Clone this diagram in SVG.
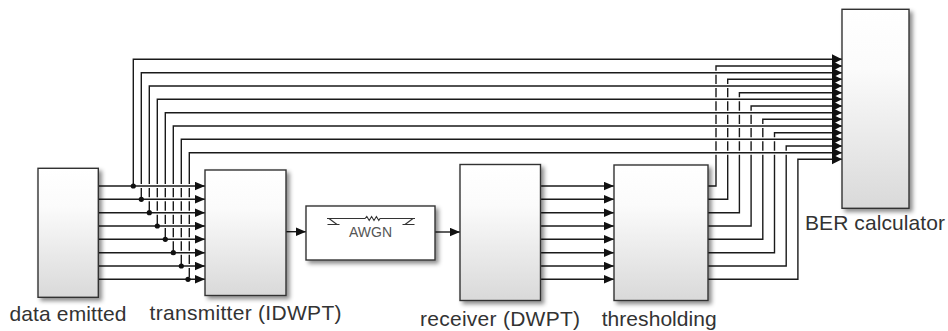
<svg xmlns="http://www.w3.org/2000/svg" width="948" height="331" viewBox="0 0 948 331">
<defs>
<linearGradient id="blk" x1="0" y1="0" x2="0" y2="1">
<stop offset="0" stop-color="#ffffff"/>
<stop offset="0.3" stop-color="#fbfbfb"/>
<stop offset="1" stop-color="#d9d9d9"/>
</linearGradient>
<filter id="sh" x="-20%" y="-20%" width="150%" height="150%">
<feDropShadow dx="3" dy="3" stdDeviation="2" flood-color="#000" flood-opacity="0.45"/>
</filter>
<marker id="ar" markerUnits="userSpaceOnUse" markerWidth="11" markerHeight="10" refX="10" refY="4.5" orient="auto">
<path d="M0,0.3 L10,4.5 L0,8.7 z" fill="#111"/>
</marker>
<marker id="arb" markerUnits="userSpaceOnUse" markerWidth="11" markerHeight="12" refX="10" refY="5.5" orient="auto">
<path d="M0,0.5 L10,5.5 L0,10.5 z" fill="#111"/>
</marker>
<style>
.blk{fill:url(#blk);stroke:#333;stroke-width:1.4;filter:url(#sh)}
.w{fill:#fff;stroke:#333;stroke-width:1.4;filter:url(#sh)}
.ln{fill:none;stroke:#1a1a1a;stroke-width:1.4}
.ar{marker-end:url(#ar)}
.arb{marker-end:url(#arb)}
.halo{fill:none;stroke:#fff;stroke-width:4}
.lbl{font-family:"Liberation Sans",Arial,sans-serif;font-size:21px;fill:#333}
.ico{fill:none;stroke:#333;stroke-width:1.1}
</style>
</defs>
<rect width="948" height="331" fill="#fff"/>

<g id="connectors">
<!-- thresholding outputs to BER -->
<path class="ln arb" d="M708 186 H716 V66 H842"/>
<path class="ln arb" d="M708 199.3 H727.7 V79.3 H842"/>
<path class="ln arb" d="M708 212.7 H739.4 V92.7 H842"/>
<path class="ln arb" d="M708 226 H751.1 V106 H842"/>
<path class="ln arb" d="M708 239.3 H762.8 V119.3 H842"/>
<path class="ln arb" d="M708 252.7 H774.5 V132.7 H842"/>
<path class="ln arb" d="M708 266 H786.2 V146 H842"/>
<path class="ln arb" d="M708 279.3 H797.9 V159.3 H842"/>
<!-- halos on data top lines -->
<path class="halo" d="M137 59.3 H830 M145 72.7 H830 M153 86 H830 M161 99.3 H830 M169 112.7 H830 M177 126 H830 M185 139.3 H830 M193 152.7 H830"/>
<!-- data branches to BER -->
<path class="ln arb" d="M133.3 186 V59.3 H842"/>
<path class="ln arb" d="M141.3 199.3 V72.7 H842"/>
<path class="ln arb" d="M149.3 212.7 V86 H842"/>
<path class="ln arb" d="M157.3 226 V99.3 H842"/>
<path class="ln arb" d="M165.3 239.3 V112.7 H842"/>
<path class="ln arb" d="M173.3 252.7 V126 H842"/>
<path class="ln arb" d="M181.3 266 V139.3 H842"/>
<path class="ln arb" d="M189.3 279.3 V152.7 H842"/>
<!-- halos on data lines -->
<path class="halo" d="M100 186 H195 M100 199.3 H195 M100 212.7 H195 M100 226 H195 M100 239.3 H195 M100 252.7 H195 M100 266 H195 M100 279.3 H195"/>
<!-- data lines to transmitter -->
<path class="ln ar" d="M98 186 H205"/>
<path class="ln ar" d="M98 199.3 H205"/>
<path class="ln ar" d="M98 212.7 H205"/>
<path class="ln ar" d="M98 226 H205"/>
<path class="ln ar" d="M98 239.3 H205"/>
<path class="ln ar" d="M98 252.7 H205"/>
<path class="ln ar" d="M98 266 H205"/>
<path class="ln ar" d="M98 279.3 H205"/>
<!-- branch dots -->
<g fill="#111">
<circle cx="133.3" cy="186" r="2.6"/>
<circle cx="141.3" cy="199.3" r="2.6"/>
<circle cx="149.3" cy="212.7" r="2.6"/>
<circle cx="157.3" cy="226" r="2.6"/>
<circle cx="165.3" cy="239.3" r="2.6"/>
<circle cx="173.3" cy="252.7" r="2.6"/>
<circle cx="181.3" cy="266" r="2.6"/>
<circle cx="188" cy="279.3" r="2.6"/>
</g>
<!-- transmitter -> AWGN -> receiver -->
<path class="ln ar" d="M286 231.7 H306"/>
<path class="ln ar" d="M435 232 H460"/>
<!-- receiver -> thresholding -->
<path class="ln ar" d="M540.5 186 H614"/>
<path class="ln ar" d="M540.5 199.3 H614"/>
<path class="ln ar" d="M540.5 212.7 H614"/>
<path class="ln ar" d="M540.5 226 H614"/>
<path class="ln ar" d="M540.5 239.3 H614"/>
<path class="ln ar" d="M540.5 252.7 H614"/>
<path class="ln ar" d="M540.5 266 H614"/>
<path class="ln ar" d="M540.5 279.3 H614"/>
</g>

<g id="data-emitted">
<rect class="blk" x="38" y="168.3" width="60.3" height="129"/>
<text class="lbl" x="9.5" y="320.5" textLength="117" lengthAdjust="spacing">data emitted</text>
</g>

<g id="transmitter">
<rect class="blk" x="205" y="170" width="81" height="125.5"/>
<text class="lbl" x="149.5" y="319.5" textLength="192" lengthAdjust="spacing">transmitter (IDWPT)</text>
</g>

<g id="awgn">
<rect class="w" x="306" y="206" width="129" height="54"/>
<path class="ico" d="M327 218.5 H365 l1.8 -2 l2.4 4 l2.4 -4 l2.4 4 l2.4 -4 l2.4 4 l1.2 -2 H415"/>
<path class="ico" d="M329 218.5 L337 224.5 M327.5 224.5 H339.5 M413 218.5 L405 224.5 M402.5 224.5 H414.5"/>
<text x="370.5" y="237" text-anchor="middle" font-family="Liberation Sans, Arial, sans-serif" font-size="14" fill="#555">AWGN</text>
</g>

<g id="receiver">
<rect class="blk" x="460" y="164.5" width="80.5" height="136"/>
<text class="lbl" x="420" y="326" textLength="160" lengthAdjust="spacing">receiver (DWPT)</text>
</g>

<g id="thresholding">
<rect class="blk" x="614" y="165" width="94" height="135.5"/>
<text class="lbl" x="601.7" y="326" textLength="115" lengthAdjust="spacing">thresholding</text>
</g>

<g id="ber-calculator">
<rect class="blk" x="842" y="9.3" width="67" height="199"/>
<text class="lbl" x="805" y="229.5" textLength="140" lengthAdjust="spacing">BER calculator</text>
</g>
</svg>
